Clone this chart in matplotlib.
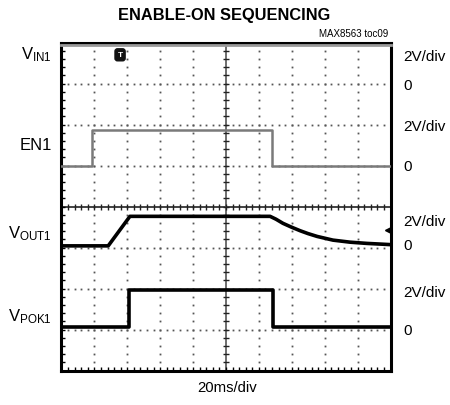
import numpy as np
import matplotlib
matplotlib.use("Agg")
import matplotlib.pyplot as plt
from matplotlib import font_manager as fm

# ---- data (x in divisions, 20 ms/div; y in screen divisions) ----
vin1_t = [0.0, 10.0]
vin1_v = [7.95, 7.95]

en1_t = [0.0, 0.92, 0.92, 6.41, 6.41, 10.0]
en1_v = [5.0, 5.0, 5.87, 5.87, 5.0, 5.0]

vout1_t = [0.0, 1.42, 2.08, 6.34, 6.52, 6.73, 6.98, 7.25, 7.49, 7.77, 8.25, 8.77, 9.28, 9.77, 10.0]
vout1_v = [3.04, 3.04, 3.76, 3.76, 3.69, 3.59, 3.50, 3.41, 3.34, 3.27, 3.18, 3.13, 3.10, 3.08, 3.07]

vpok1_t = [0.0, 2.05, 2.05, 6.42, 6.42, 10.0]
vpok1_v = [1.06, 1.06, 1.97, 1.97, 1.06, 1.06]

left_labels = [r"$\mathregular{V_{IN1}}$", "EN1", r"$\mathregular{V_{OUT1}}$", r"$\mathregular{V_{POK1}}$"]
left_label_y = [7.72, 5.52, 3.35, 1.33]
scale_labels = ["2V/div", "2V/div", "2V/div", "2V/div"]
scale_label_y = [7.67, 5.96, 3.65, 1.91]
zero_label_y = [6.96, 4.98, 3.07, 0.99]

names = {f.name for f in fm.fontManager.ttflist}
narrow = "Liberation Sans Narrow" if "Liberation Sans Narrow" in names else "Liberation Sans"
plt.rcParams["font.family"] = [narrow, "DejaVu Sans"]
plt.rcParams["mathtext.fontset"] = "custom"
plt.rcParams["mathtext.rm"] = narrow

W, H = 450, 406
fig = plt.figure(figsize=(W / 100, H / 100), dpi=100)
x0, x1, y0, y1 = 61.5, 390.5, 43.5, 371.5
ax = fig.add_axes([x0 / W, 1 - y1 / H, (x1 - x0) / W, (y1 - y0) / H])
ax.set_xlim(0, 10)
ax.set_ylim(0, 8)

# grid dots
fine_x = np.arange(0, 10.001, 0.2)
fine_y = np.arange(0, 8.001, 0.2)
for gy in [1, 2, 3, 5, 6, 7]:
    ax.plot(fine_x, np.full_like(fine_x, gy), ls="none", marker="s", ms=1.3,
            color="#555555", mew=0, zorder=1)
for gx in [1, 2, 3, 4, 6, 7, 8, 9]:
    ax.plot(np.full_like(fine_y, gx), fine_y, ls="none", marker="s", ms=1.3,
            color="#555555", mew=0, zorder=1)
# center crosshair with ticks
ax.axhline(4, color="#222222", lw=1.2, zorder=1)
ax.axvline(5, color="#555555", lw=1.2, zorder=1)
ax.plot(fine_x, np.full_like(fine_x, 4), ls="none", marker="|", ms=5,
        color="#222222", mew=1.0, zorder=1)
ax.plot(np.full_like(fine_y, 5), fine_y, ls="none", marker="_", ms=5,
        color="#222222", mew=1.0, zorder=1)

# traces
ax.plot(vin1_t, vin1_v, color="#9a9a9a", lw=2.0, zorder=3, clip_on=False)
ax.plot(en1_t, en1_v, color="#7a7a7a", lw=1.8, zorder=3)
ax.plot(vout1_t, vout1_v, color="black", lw=2.6, zorder=3, solid_joinstyle="round")
ax.plot(vpok1_t, vpok1_v, color="black", lw=2.6, zorder=3)

# trigger marker and ground marker
ax.text(1.78, 7.7, "T", ha="center", va="center", color="white", fontsize=6,
        fontweight="bold",
        bbox=dict(boxstyle="round,pad=0.3", fc="#111111", ec="#111111"), zorder=4)
ax.plot([9.95], [3.42], marker="<", ms=6, color="black", zorder=4, clip_on=True)

# axes styling
for s in ax.spines.values():
    s.set_linewidth(2.2)
ax.set_xticks([])
ax.set_yticks([])
ax.set_xticks(fine_x, minor=True)
ax.set_yticks(fine_y, minor=True)
ax.tick_params(which="minor", direction="in", length=3, width=1, color="black",
               labelbottom=False, labelleft=False)

# text
fig.text(224 / W, 1 - 15.5 / H, "ENABLE-ON SEQUENCING", ha="center", va="center",
         fontsize=11.8, fontweight="bold")
fig.text(388 / W, 1 - 34 / H, "MAX8563 toc09", ha="right", va="center", fontsize=7)
fig.text(227 / W, 1 - 388 / H, "20ms/div", ha="center", va="center", fontsize=10.7)

for lab, yy in zip(left_labels, left_label_y):
    ax.text(-0.3, yy, lab, ha="right", va="center", fontsize=12, clip_on=False)
for lab, yy in zip(scale_labels, scale_label_y):
    ax.text(10.38, yy, lab, ha="left", va="center", fontsize=11, clip_on=False)
for yy in zero_label_y:
    ax.text(10.38, yy, "0", ha="left", va="center", fontsize=11, clip_on=False)

fig.savefig("out.png", dpi=100)
